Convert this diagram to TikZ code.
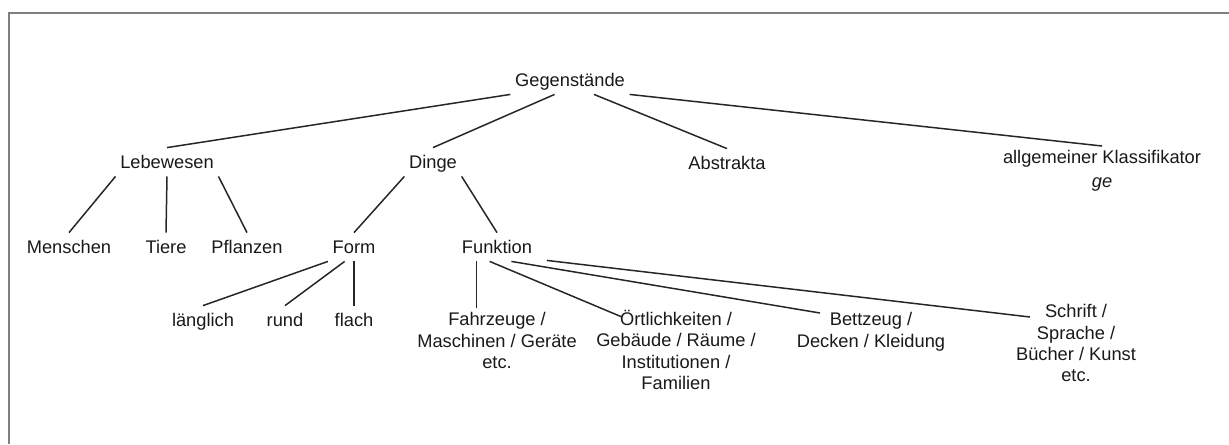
\documentclass[tikz,border=0pt]{standalone}
\usepackage{fontspec}
\setmainfont{Liberation Sans}
\usetikzlibrary{calc}
\tikzset{
  lbl/.style={inner sep=2.5pt,text height=9pt,text depth=2pt},
  blk/.style={inner sep=2.5pt,align=center,anchor=north},
  % plain links; ends on the text blocks are set by hand
  lnk/.style={line width=0.85pt,black!85},
  frame/.style={line width=1.2pt,black!50},
}
\newcommand{\Links}{%
  \draw[lnk] (gg.south west) -- (leb.north);
  \draw[lnk] (gg.-137) -- (dng.north);
  \draw[lnk] (gg.-31) -- (abs.north);
  \draw[lnk] (gg.south east) -- (allg.north);
  \draw[lnk] (leb.south west) -- (men.north);
  \draw[lnk] (leb.south) -- (tie.north);
  \draw[lnk] (leb.south east) -- (pfl.north);
  \draw[lnk] (dng.south west) -- (frm.north);
  \draw[lnk] (dng.south east) -- (fun.north);
  \draw[lnk] (frm.south west) -- (lae.north);
  \draw[lnk] (frm.-123) -- (run.north);
  \draw[lnk] (frm.south) -- (fla.north);
  \draw[lnk] (fun.-145) -- (fun.-145 |- fzg.north);
  \draw[lnk] (fun.-117) -- ($(ort.north)+(-54,11.5)$);
  \draw[lnk] (fun.-45) -- ($(bet.north)+(-51,5)$);
  \draw[lnk] ($(fun.south east)+(10,-1)$) -- ($(sch.north)+(-46,17)$);
}
\begin{document}
\begin{tikzpicture}[x=0.02cm,y=-0.02cm,
    every node/.style={font=\fontsize{10.4}{12.1}\selectfont,text=black!90}]
  \useasboundingbox (0,0) rectangle (1229,444);
  \draw[frame] (1229,13) -- (9,13) -- (9,444);
  \node[lbl] (gg) at (570,80) {Gegenstände};
  \node[lbl] (leb) at (167,162) {Lebewesen};
  \node[lbl] (dng) at (433,162) {Dinge};
  \node[lbl] (abs) at (727,163) {Abstrakta};
  \node[blk] (allg) at (1102,146) {allgemeiner Klassifikator\\[1pt]\textit{ge}};
  \node[lbl] (men) at (69,247) {Menschen};
  \node[lbl] (tie) at (166,247) {Tiere};
  \node[lbl] (pfl) at (247,247) {Pflanzen};
  \node[lbl] (frm) at (354,247) {Form};
  \node[lbl] (fun) at (497,247) {Funktion};
  \node[lbl] (lae) at (203,320) {länglich};
  \node[lbl] (run) at (285,320) {rund};
  \node[lbl] (fla) at (354,320) {flach};
  \node[blk] (fzg) at (497,308) {Fahrzeuge /\\Maschinen / Geräte\\etc.};
  \node[blk] (ort) at (676,305.5) {Örtlichkeiten /\\Gebäude / Räume /\\Institutionen /\\Familien};
  \node[blk] (bet) at (871,308) {Bettzeug /\\Decken / Kleidung};
  \node[blk] (sch) at (1076,300) {Schrift /\\Sprache /\\Bücher / Kunst\\etc.};
  \Links
\end{tikzpicture}
\end{document}
